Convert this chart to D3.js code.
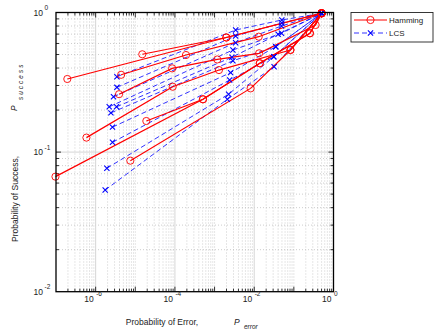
<!DOCTYPE html>
<html><head><meta charset="utf-8">
<script src="https://cdn.jsdelivr.net/npm/d3@7"></script>
<style>
body{margin:0;background:#fff}
svg{display:block}
text{font-family:"Liberation Sans",Arial,sans-serif;fill:#222}
</style></head>
<body><svg id="chart" width="435" height="335"></svg>
<script>
// ---- data ----
const xTickExps = [-6, -4, -2, 0];
const yTickExps = [-2, -1, 0];
const xDomain = [1e-7, 1];
const yDomain = [1e-2, 1];
const seriesNames = ["Hamming", "LCS"];

// Hamming curves: P_error values
const hammingErr = [
  [1.93e-7, 1.98e-3, 0.5],
  [1.5e-5, 1.98e-3, 0.5],
  [4.4e-6, 1.9e-4, 0.013, 0.5],
  [3.9e-6, 8.5e-5, 1.17e-3, 0.0133, 0.354, 0.5],
  [5.85e-7, 8.8e-5, 1.29e-3, 0.082, 0.5],
  [1.9e-5, 5.1e-4, 0.0138, 0.254, 0.5],
  [9.7e-8, 5.1e-4, 0.0138, 0.254, 0.5],
  [7.5e-6, 8.1e-3, 0.082, 0.5]
];
// Hamming curves: P_success values
const hammingSucc = [
  [0.334, 0.662, 0.987],
  [0.502, 0.662, 0.987],
  [0.358, 0.496, 0.671, 0.987],
  [0.26, 0.398, 0.461, 0.51, 0.814, 0.987],
  [0.127, 0.294, 0.387, 0.539, 0.987],
  [0.167, 0.239, 0.433, 0.71, 0.987],
  [0.0667, 0.239, 0.433, 0.71, 0.987],
  [0.0868, 0.286, 0.539, 0.987]
];
// LCS curves
const lcsErr = [
  [3.44e-6, 3.4e-3, 0.0497, 0.5],
  [3.44e-6, 3.4e-3, 0.0497, 0.5],
  [2.82e-6, 3.4e-3, 0.0489, 0.5],
  [2.2e-6, 2.9e-3, 0.0489, 0.5],
  [3.36e-6, 2.74e-3, 0.04, 0.5],
  [2.43e-6, 2.9e-3, 0.035, 0.5],
  [2.66e-6, 2.54e-3, 0.035, 0.5],
  [2.66e-6, 2.4e-3, 0.0312, 0.5],
  [1.92e-6, 2.26e-3, 0.0312, 0.5],
  [1.74e-6, 2.1e-3, 0.0317, 0.5]
];
const lcsSucc = [
  [0.347, 0.749, 0.884, 0.987],
  [0.291, 0.679, 0.841, 0.987],
  [0.249, 0.608, 0.80, 0.987],
  [0.211, 0.539, 0.71, 0.987],
  [0.211, 0.478, 0.698, 0.987],
  [0.191, 0.451, 0.569, 0.987],
  [0.151, 0.371, 0.569, 0.987],
  [0.1175, 0.328, 0.482, 0.987],
  [0.0766, 0.26, 0.482, 0.987],
  [0.0535, 0.239, 0.409, 0.987]
];

// ---- layout ----
const svg = d3.select("#chart");
const L = 56, R = 333.5, T = 12.5, B = 291.7;
const x = d3.scaleLog().domain(xDomain).range([L, R]);
const y = d3.scaleLog().domain(yDomain).range([B, T]);

const xMinor = [];
for (let e = -7; e < 0; e++) for (let m = 1; m < 10; m++) xMinor.push(m * Math.pow(10, e));
const yMinor = [];
for (let e = -2; e < 0; e++) for (let m = 1; m < 10; m++) yMinor.push(m * Math.pow(10, e));
const xMajor = xTickExps.map(e => Math.pow(10, e));
const yMajor = yTickExps.map(e => Math.pow(10, e));
const near = (a, b) => Math.abs(Math.log10(a) - Math.log10(b)) < 1e-6;
const isMajX = v => xMajor.some(m => near(v, m));
const isMajY = v => yMajor.some(m => near(v, m));
const isDecade = v => Math.abs(Math.log10(v) - Math.round(Math.log10(v))) < 1e-6;

const grid = svg.append("g");
grid.selectAll(".gxm").data(xMinor.filter(v => !isMajX(v) && v > xDomain[0] * 1.01)).enter().append("line")
  .attr("x1", d => x(d)).attr("x2", d => x(d)).attr("y1", T).attr("y2", B)
  .attr("stroke", "#b8b8b8").attr("stroke-width", 0.7).attr("stroke-dasharray", "1,2");
grid.selectAll(".gym").data(yMinor.filter(v => !isMajY(v) && v > yDomain[0] * 1.01)).enter().append("line")
  .attr("y1", d => y(d)).attr("y2", d => y(d)).attr("x1", L).attr("x2", R)
  .attr("stroke", "#b8b8b8").attr("stroke-width", 0.7).attr("stroke-dasharray", "1,2");
grid.selectAll(".gxM").data(xMajor.filter(v => v < 1)).enter().append("line")
  .attr("x1", d => x(d)).attr("x2", d => x(d)).attr("y1", T).attr("y2", B)
  .attr("stroke", "#d6d6d6").attr("stroke-width", 1);
grid.selectAll(".gyM").data(yMajor.filter(v => v > yDomain[0] && v < 1)).enter().append("line")
  .attr("y1", d => y(d)).attr("y2", d => y(d)).attr("x1", L).attr("x2", R)
  .attr("stroke", "#d6d6d6").attr("stroke-width", 1);

// ticks inside on all four sides
const tk = svg.append("g").attr("stroke", "#000").attr("stroke-width", 0.8);
xMinor.filter(v => v > xDomain[0] * 1.01).concat([1]).forEach(v => {
  const len = isDecade(v) ? 5 : 3;
  tk.append("line").attr("x1", x(v)).attr("x2", x(v)).attr("y1", B).attr("y2", B - len);
  tk.append("line").attr("x1", x(v)).attr("x2", x(v)).attr("y1", T).attr("y2", T + len);
});
yMinor.filter(v => v > yDomain[0] * 1.01).concat([1]).forEach(v => {
  const len = isDecade(v) ? 5 : 3;
  tk.append("line").attr("y1", y(v)).attr("y2", y(v)).attr("x1", L).attr("x2", L + len);
  tk.append("line").attr("y1", y(v)).attr("y2", y(v)).attr("x1", R).attr("x2", R - len);
});

// data
const line = d3.line().x(d => x(d[0])).y(d => y(d[1]));
const plot = svg.append("g");
const lcsData = lcsErr.map((xs, i) => xs.map((v, j) => [v, lcsSucc[i][j]]));
const hamData = hammingErr.map((xs, i) => xs.map((v, j) => [v, hammingSucc[i][j]]));

lcsData.forEach(pts => {
  plot.append("path").datum(pts).attr("d", line).attr("fill", "none")
    .attr("stroke", "#0000ff").attr("stroke-width", 0.8).attr("stroke-dasharray", "5,3");
});
hamData.forEach(pts => {
  plot.append("path").datum(pts).attr("d", line).attr("fill", "none")
    .attr("stroke", "#ff0000").attr("stroke-width", 1.2);
});
function xMark(g, cx, cy, s) {
  g.append("path").attr("d", `M${cx - s},${cy - s}L${cx + s},${cy + s}M${cx - s},${cy + s}L${cx + s},${cy - s}`)
    .attr("stroke", "#0000ff").attr("stroke-width", 1.1).attr("fill", "none");
}
lcsData.forEach(pts => pts.forEach(d => xMark(plot, x(d[0]), y(d[1]), 2.6)));
hamData.forEach(pts => pts.forEach(d => {
  plot.append("circle").attr("cx", x(d[0])).attr("cy", y(d[1])).attr("r", 3.6)
    .attr("fill", "none").attr("stroke", "#ff0000").attr("stroke-width", 0.9);
}));

// frame
svg.append("rect").attr("x", L).attr("y", T).attr("width", R - L).attr("height", B - T)
  .attr("fill", "none").attr("stroke", "#000").attr("stroke-width", 1.3);

// tick labels
const sup = e => e === 0 ? "0" : "-" + Math.abs(e);
xTickExps.forEach(e => {
  const cx = x(Math.pow(10, e));
  svg.append("text").attr("x", cx - 2).attr("y", 302).attr("text-anchor", "end")
    .attr("font-size", 8.5).text("10");
  svg.append("text").attr("x", cx + 0.5).attr("y", 296).attr("font-size", 6.5).text(sup(e));
});
yTickExps.forEach(e => {
  const cy = y(Math.pow(10, e));
  svg.append("text").attr("x", 43).attr("y", cy + 3).attr("text-anchor", "end")
    .attr("font-size", 8.5).text("10");
  svg.append("text").attr("x", 44.5).attr("y", cy - 2.5).attr("font-size", 6.5).text(sup(e));
});

// axis titles
svg.append("text").attr("x", 162).attr("y", 325).attr("text-anchor", "middle")
  .attr("font-size", 8.5).text("Probability of Error,");
svg.append("text").attr("x", 234).attr("y", 325).attr("font-size", 8.5)
  .attr("font-style", "italic").text("P");
svg.append("text").attr("x", 244).attr("y", 329).attr("font-size", 6.5)
  .attr("font-style", "italic").text("error");

svg.append("text").attr("transform", "translate(17.5,199) rotate(-90)").attr("text-anchor", "middle")
  .attr("font-size", 8.5).text("Probability of Success,");
svg.append("text").attr("transform", "translate(17,111) rotate(-90)").attr("font-size", 8.5)
  .attr("font-style", "italic").text("P");
svg.append("text").attr("transform", "translate(22.5,100) rotate(-90)").attr("font-size", 6.5)
  .attr("font-style", "italic").attr("letter-spacing", 2).text("success");

// legend
const lg = svg.append("g");
lg.append("rect").attr("x", 351).attr("y", 12.5).attr("width", 82).attr("height", 29.5)
  .attr("fill", "#fff").attr("stroke", "#222").attr("stroke-width", 0.9);
lg.append("line").attr("x1", 354).attr("x2", 387).attr("y1", 20).attr("y2", 20)
  .attr("stroke", "#ff0000").attr("stroke-width", 1.2);
lg.append("circle").attr("cx", 370.5).attr("cy", 20).attr("r", 3.6).attr("fill", "none")
  .attr("stroke", "#ff0000").attr("stroke-width", 0.9);
lg.append("line").attr("x1", 354).attr("x2", 387).attr("y1", 33).attr("y2", 33)
  .attr("stroke", "#0000ff").attr("stroke-width", 0.8).attr("stroke-dasharray", "5,3");
xMark(lg, 370.5, 33, 2.6);
lg.append("text").attr("x", 389).attr("y", 23).attr("font-size", 8).text(seriesNames[0]);
lg.append("text").attr("x", 389).attr("y", 36).attr("font-size", 8).text(seriesNames[1]);
</script></body></html>
